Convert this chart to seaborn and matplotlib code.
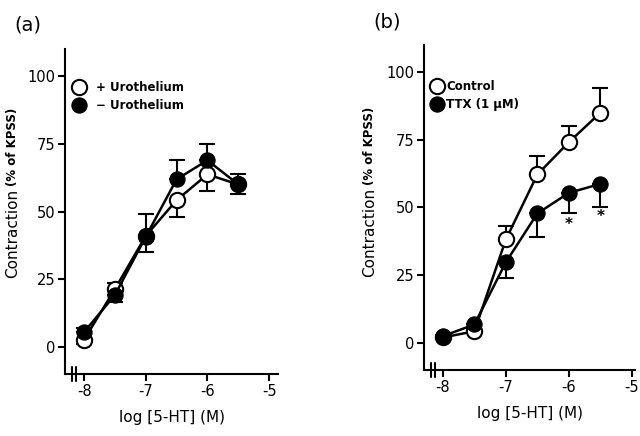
import matplotlib
matplotlib.use('Agg')
import matplotlib.pyplot as plt
import matplotlib.transforms as mtransforms
import seaborn as sns
import numpy as np
import pandas as pd

# log [5-HT] (M)
conc = [-8, -7.5, -7, -6.5, -6, -5.5]

# panel (a)
uro_plus = [2.7, 21.4, 41.0, 54.2, 63.7, 60.0]
uro_plus_err = [1.5, 4.7, 6.0, 6.4, 6.1, 3.6]      # drawn downwards
uro_minus = [5.5, 19.2, 40.7, 61.9, 68.9, 60.0]
uro_minus_err = [1.5, 4.4, 8.3, 7.0, 5.9, 3.7]     # drawn upwards

# panel (b)
control = [2.0, 4.3, 38.2, 62.2, 74.1, 85.0]
control_err = [1.0, 1.5, 5.1, 6.8, 5.9, 9.2]       # upwards
ttx = [2.5, 6.8, 29.8, 47.8, 55.4, 58.7]
ttx_err = [1.0, 1.5, 5.8, 8.6, 7.6, 8.6]           # downwards
signif_x = [-6, -5.5]
signif_y = [43.7, 46.8]

yticks = [0, 25, 50, 75, 100]
xticks = [-8, -7, -6, -5]

sns.set_style('ticks')
plt.rcParams['font.family'] = ['DejaVu Sans']
plt.rcParams['axes.linewidth'] = 1.5
for key in ['text.color', 'axes.labelcolor', 'xtick.color', 'ytick.color', 'axes.edgecolor']:
    plt.rcParams[key] = 'black'

df_a = pd.DataFrame({'conc': conc, 'plus': uro_plus, 'minus': uro_minus})
df_b = pd.DataFrame({'conc': conc, 'control': control, 'ttx': ttx})

fig = plt.figure(figsize=(6.4, 4.36), dpi=100)
ax_a = fig.add_axes([0.1016, 0.1422, 0.3333, 0.7454])
ax_b = fig.add_axes([0.6625, 0.1514, 0.3297, 0.7454])

open_kw = dict(marker='o', color='black', markersize=11, markerfacecolor='white',
               markeredgecolor='black', markeredgewidth=1.5, lw=1.8)
filled_kw = dict(marker='o', color='black', markersize=11, markerfacecolor='black',
                 markeredgecolor='black', lw=1.8)
err_kw = dict(fmt='none', ecolor='black', capsize=6, elinewidth=1.5, capthick=1.5, zorder=1)
zeros = np.zeros(len(conc))


def style_axis(ax, xlim):
    ax.set_xlim(*xlim)
    ax.set_ylim(-10, 110)
    ax.set_xticks(xticks)
    ax.set_yticks(yticks)
    ax.set_xticklabels([f'-{abs(t)}' for t in xticks], fontsize=10.5)
    ax.set_yticklabels([str(t) for t in yticks], fontsize=10.5)
    ax.tick_params(width=1.5, length=5, direction='out', pad=2)
    sns.despine(ax=ax)
    ax.set_xlabel('log [5-HT] (M)', fontsize=11, labelpad=8)
    ax.set_ylabel('')
    # axis break marks
    trans = mtransforms.blended_transform_factory(ax.transData, ax.transAxes)
    x0 = xlim[0]
    for dx in (0.11, 0.18):
        ax.plot([x0 + dx, x0 + dx], [-0.022, 0.022], color='black', lw=1.5,
                transform=trans, clip_on=False)


def ylabel(ax, xpos, ypos):
    t1 = ax.text(xpos, ypos, 'Contraction', rotation=90, fontsize=11,
                 ha='center', va='bottom', transform=ax.transAxes)
    ax.annotate('(% of KPSS)', xy=(0.5, 1.0), xycoords=t1, rotation=90,
                fontsize=8.5, fontweight='bold', ha='center', va='bottom',
                xytext=(0, 2), textcoords='offset points')


# ---- panel (a)
ax_a.errorbar(conc, uro_plus, yerr=[uro_plus_err, zeros], **err_kw)
ax_a.errorbar(conc, uro_minus, yerr=[zeros, uro_minus_err], **err_kw)
sns.lineplot(data=df_a, x='conc', y='plus', ax=ax_a, label='+ Urothelium', zorder=3, **open_kw)
sns.lineplot(data=df_a, x='conc', y='minus', ax=ax_a, label='\u2212 Urothelium', zorder=4, **filled_kw)
style_axis(ax_a, (-8.31, -4.85))
ylabel(ax_a, -0.245, 0.295)
ax_a.legend(loc='upper left', bbox_to_anchor=(0.0, 0.935), frameon=False,
            handlelength=0.6, handletextpad=1.1, labelspacing=0.45,
            prop={'size': 8.5, 'weight': 'bold'})

# ---- panel (b)
ax_b.errorbar(conc, control, yerr=[zeros, control_err], **err_kw)
ax_b.errorbar(conc, ttx, yerr=[ttx_err, zeros], **err_kw)
sns.lineplot(data=df_b, x='conc', y='control', ax=ax_b, label='Control', zorder=3, **open_kw)
sns.lineplot(data=df_b, x='conc', y='ttx', ax=ax_b, label='TTX (1 \u03bcM)', zorder=4, **filled_kw)
style_axis(ax_b, (-8.30, -4.95))
ylabel(ax_b, -0.258, 0.286)
ax_b.legend(loc='upper left', bbox_to_anchor=(-0.005, 0.925), frameon=False,
            handlelength=0.6, handletextpad=0.45, labelspacing=0.45,
            prop={'size': 8.5, 'weight': 'bold'})
for x, y in zip(signif_x, signif_y):
    ax_b.text(x, y, '*', ha='center', va='center', fontsize=11, fontweight='bold')

fig.text(0.022, 0.943, '(a)', fontsize=14, va='center')
fig.text(0.583, 0.95, '(b)', fontsize=14, va='center')

fig.savefig('out.png', dpi=100)
